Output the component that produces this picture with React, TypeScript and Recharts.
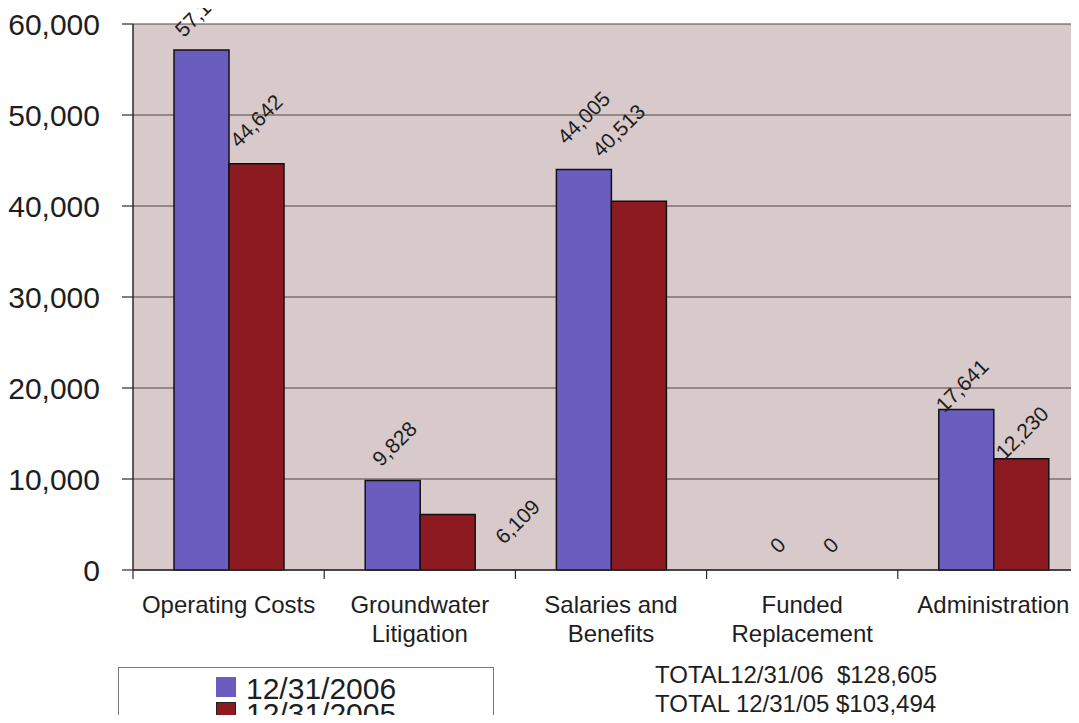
import React from 'react';
import { ComposedChart, Bar, Line, XAxis, YAxis, CartesianGrid, LabelList } from 'recharts';

// ---- data ----
const categories = ['Operating Costs', 'Groundwater Litigation', 'Salaries and Benefits', 'Funded Replacement', 'Administration'];
const categoryLines: string[][] = [
  ['Operating Costs'],
  ['Groundwater', 'Litigation'],
  ['Salaries and', 'Benefits'],
  ['Funded', 'Replacement'],
  ['Administration'],
];
const seriesNames = ['12/31/2006', '12/31/2005'];
const values2006 = [57131, 9828, 44005, 0, 17641];
const values2005 = [44642, 6109, 40513, 0, 12230];
const yTicks = [0, 10000, 20000, 30000, 40000, 50000, 60000];
const totalsText = ['TOTAL12/31/06  $128,605', 'TOTAL 12/31/05 $103,494'];

// ---- style / layout constants ----
const FONT = '"Liberation Sans", Arial, Helvetica, sans-serif';
const CHART_W = 1089;
const CHART_H = 723;
const Y_AXIS_W = 133;
const PLOT_TOP = 24;
const PLOT_BOTTOM = 570;
const X_AXIS_H = 80;
const BAND = (CHART_W - Y_AXIS_W) / categories.length;
const BAR_W = 55;
const BLUE = '#6a5dbf';
const RED = '#8c1a20';
const PLOT_BG = '#d8c9cb';
const GRID = '#4e4646';
const AXIS = '#2a2a2a';
const TEXT = '#1e1e1e';

// label placement tweaks (label centre relative to bar top-centre)
const labelShift2006: [number, number][] = [[0, -40], [2, -37], [0, -52], [3, -25], [-4, -24]];
const labelShift2005: [number, number][] = [[0, -43], [70, 7], [-20, -71], [1, -25], [1, -26]];

const data = categories.map((c, i) => ({
  name: c,
  v2006: values2006[i],
  v2005: values2005[i],
}));

const fmt = (v: number) => v.toLocaleString('en-US');

// labels are attached to invisible line series (point x = category centre),
// shifted to the centre of the matching bar
const makeLabel = (shifts: [number, number][], barOffset: number) => (props: any) => {
  const { x, y, value, index } = props;
  const [dx, dy] = shifts[index] || [0, -38];
  const cx = Number(x) + barOffset + dx;
  const cy = Number(y) + dy;
  return (
    <text
      x={cx}
      y={cy}
      textAnchor="middle"
      dominantBaseline="central"
      transform={`rotate(-45, ${cx}, ${cy})`}
      fontFamily={FONT}
      fontSize={21}
      fill={TEXT}
    >
      {fmt(Number(value))}
    </text>
  );
};

const XTick = (props: any) => {
  const { x, payload, index } = props;
  const lines = categoryLines[index] || [String(payload.value)];
  const left = x - BAND / 2;
  return (
    <g>
      <line x1={left} y1={PLOT_BOTTOM} x2={left} y2={PLOT_BOTTOM + 9} stroke={AXIS} strokeWidth={1.2} />
      {lines.map((ln, i) => (
        <text
          key={i}
          x={x}
          y={613 + i * 29}
          textAnchor="middle"
          fontFamily={FONT}
          fontSize={24}
          fill={TEXT}
        >
          {ln}
        </text>
      ))}
    </g>
  );
};

export default function App() {
  return (
    <div
      style={{
        position: 'relative',
        width: 1079,
        height: 723,
        overflow: 'hidden',
        margin: -8,
        background: '#ffffff',
        fontFamily: FONT,
      }}
    >
      <ComposedChart
        width={CHART_W}
        height={CHART_H}
        data={data}
        margin={{ top: PLOT_TOP, right: 0, left: 0, bottom: CHART_H - PLOT_BOTTOM - X_AXIS_H }}
        barGap={0}
        barSize={BAR_W}
      >
        <CartesianGrid
          vertical={false}
          stroke={GRID}
          strokeWidth={1.2}
          fill={PLOT_BG}
          fillOpacity={1}
        />
        <XAxis
          dataKey="name"
          height={X_AXIS_H}
          interval={0}
          tickLine={false}
          axisLine={{ stroke: AXIS, strokeWidth: 1.5 }}
          tick={<XTick />}
        />
        <YAxis
          width={Y_AXIS_W}
          domain={[0, 60000]}
          ticks={yTicks}
          interval={0}
          tickFormatter={fmt}
          tickSize={11}
          tickMargin={22}
          axisLine={{ stroke: AXIS, strokeWidth: 1.5 }}
          tickLine={{ stroke: AXIS, strokeWidth: 1.2 }}
          tick={{ fontFamily: FONT, fontSize: 30, fill: TEXT }}
        />
        <Bar
          dataKey="v2006"
          name={seriesNames[0]}
          fill={BLUE}
          stroke="#111111"
          strokeWidth={1.5}
          isAnimationActive={false}
        />
        <Bar
          dataKey="v2005"
          name={seriesNames[1]}
          fill={RED}
          stroke="#111111"
          strokeWidth={1.5}
          isAnimationActive={false}
        />
        <Line
          dataKey="v2006"
          stroke="none"
          dot={false}
          activeDot={false}
          legendType="none"
          isAnimationActive={false}
        >
          <LabelList dataKey="v2006" content={makeLabel(labelShift2006, -BAR_W / 2)} />
        </Line>
        <Line
          dataKey="v2005"
          stroke="none"
          dot={false}
          activeDot={false}
          legendType="none"
          isAnimationActive={false}
        >
          <LabelList dataKey="v2005" content={makeLabel(labelShift2005, BAR_W / 2)} />
        </Line>
      </ComposedChart>

      {/* legend */}
      <div
        style={{
          position: 'absolute',
          left: 118,
          top: 667,
          width: 376,
          height: 53,
          boxSizing: 'border-box',
          border: '1.5px solid #7a7a7a',
          background: '#ffffff',
          overflow: 'hidden',
        }}
      >
        {seriesNames.map((s, i) => (
          <div key={s}>
            <div
              style={{
                position: 'absolute',
                left: 97,
                top: 9 + i * 25,
                width: 20,
                height: 20,
                boxSizing: 'border-box',
                background: i === 0 ? BLUE : RED,
                border: i === 0 ? 'none' : '1px solid #222',
              }}
            />
            <div
              style={{
                position: 'absolute',
                left: 127,
                top: 6 + i * 25,
                fontSize: 30,
                lineHeight: '30px',
                color: TEXT,
                whiteSpace: 'pre',
              }}
            >
              {s}
            </div>
          </div>
        ))}
      </div>

      {/* totals */}
      <div
        style={{
          position: 'absolute',
          left: 655,
          top: 660,
          fontSize: 24,
          lineHeight: '29px',
          color: TEXT,
          whiteSpace: 'pre',
        }}
      >
        {totalsText.map((t) => (
          <div key={t}>{t}</div>
        ))}
      </div>
    </div>
  );
}
